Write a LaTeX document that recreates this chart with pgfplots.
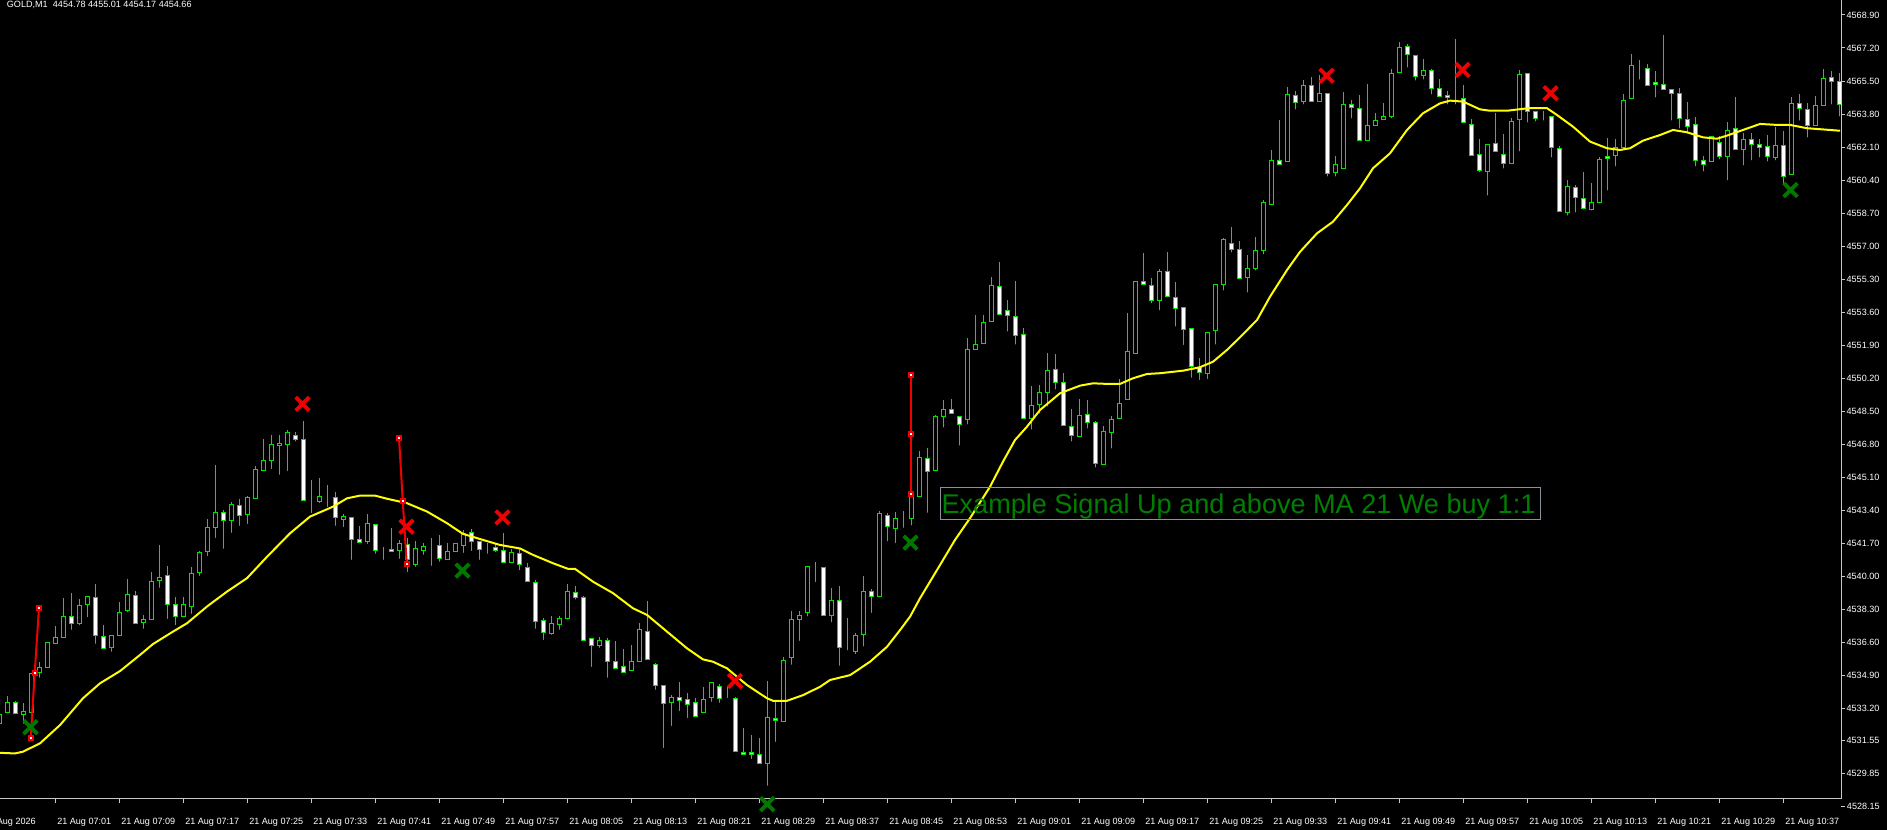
\documentclass[border=0pt]{standalone}
\usepackage{fontspec}
\setmainfont{Liberation Sans}
\usepackage{pgfplots}
\usepackage{pgfplotstable}
\pgfplotsset{compat=1.18}

\definecolor{candle}{HTML}{00E800}
\definecolor{mayellow}{HTML}{FFFF00}
\definecolor{scalegrey}{HTML}{C8C8C8}
\definecolor{sigred}{HTML}{F00000}
\definecolor{siggreen}{HTML}{007800}
\definecolor{textgreen}{HTML}{008000}
\definecolor{boxgrey}{HTML}{8A929E}

% GOLD M1 bars: index, open, high, low, close
\pgfplotstableread{
j o h l c
0 4532.44 4533.04 4532.27 4532.90
1 4533.01 4533.85 4532.90 4533.52
2 4533.52 4533.60 4532.83 4532.96
3 4532.90 4533.47 4532.27 4533.07
4 4533.01 4535.05 4532.61 4535.02
5 4535.05 4535.62 4534.64 4535.31
6 4535.31 4536.64 4535.31 4536.61
7 4536.54 4537.45 4536.39 4536.87
8 4536.87 4538.89 4536.80 4537.95
9 4537.95 4539.14 4537.11 4537.59
10 4537.57 4538.83 4537.35 4538.52
11 4538.55 4538.98 4537.76 4538.98
12 4538.93 4539.61 4536.39 4536.95
13 4536.92 4537.49 4536.30 4536.30
14 4536.34 4536.97 4535.98 4536.97
15 4536.95 4538.69 4536.90 4538.16
16 4538.24 4539.87 4538.02 4539.08
17 4539.03 4539.24 4537.59 4537.59
18 4537.62 4538.02 4537.16 4537.80
19 4537.80 4540.22 4537.72 4539.75
20 4539.78 4541.62 4539.27 4539.96
21 4540.06 4540.54 4537.67 4538.57
22 4538.55 4538.96 4537.35 4537.95
23 4537.93 4538.93 4537.83 4538.57
24 4538.45 4540.48 4537.93 4540.17
25 4540.20 4541.31 4539.88 4541.25
26 4541.30 4542.96 4540.90 4542.53
27 4542.53 4545.74 4541.84 4543.31
28 4543.31 4543.43 4541.28 4542.90
29 4542.90 4543.85 4542.10 4543.72
30 4543.67 4543.99 4542.46 4543.15
31 4543.18 4544.15 4542.56 4544.08
32 4544.03 4545.69 4544.03 4545.52
33 4545.45 4547.08 4545.28 4545.98
34 4545.98 4547.28 4545.38 4546.80
35 4546.75 4547.28 4545.09 4546.85
36 4546.80 4547.54 4545.28 4547.42
37 4547.26 4547.45 4546.80 4547.06
38 4547.06 4548.00 4543.92 4543.92
39 4543.87 4544.97 4543.12 4543.87
40 4543.87 4545.07 4543.63 4544.13
41 4544.08 4544.70 4543.43 4544.08
42 4544.08 4544.35 4542.46 4543.04
43 4542.95 4543.20 4542.40 4543.10
44 4543.04 4543.04 4540.71 4541.91
45 4541.89 4542.62 4541.74 4541.74
46 4541.79 4543.20 4541.53 4542.74
47 4542.69 4542.69 4541.02 4541.33
48 4541.30 4541.53 4540.71 4541.30
49 4541.40 4542.48 4541.23 4541.28
50 4541.33 4541.86 4540.76 4541.71
51 4541.62 4541.99 4540.08 4540.85
52 4540.61 4541.83 4540.35 4541.45
53 4541.35 4541.71 4540.97 4541.55
54 4541.60 4541.96 4540.40 4541.60
55 4541.60 4542.12 4540.61 4540.93
56 4540.87 4541.71 4540.76 4541.28
57 4541.28 4541.71 4541.12 4541.71
58 4541.60 4542.38 4541.07 4542.23
59 4542.28 4542.43 4541.17 4541.81
60 4541.81 4541.81 4540.71 4541.40
61 4541.43 4541.71 4541.02 4541.43
62 4541.50 4541.71 4541.11 4541.35
63 4541.35 4542.23 4540.71 4540.71
64 4540.71 4541.40 4540.61 4541.25
65 4541.19 4541.47 4540.17 4540.63
66 4540.48 4540.68 4539.66 4539.76
67 4539.70 4539.82 4537.16 4537.69
68 4537.74 4537.85 4536.59 4537.13
69 4537.07 4537.95 4536.85 4537.59
70 4537.54 4537.95 4537.11 4537.85
71 4537.85 4539.61 4537.64 4539.24
72 4539.19 4539.51 4538.67 4538.93
73 4538.93 4538.98 4536.54 4536.71
74 4536.82 4536.82 4535.20 4536.46
75 4536.46 4536.87 4536.18 4536.71
76 4536.71 4536.82 4534.64 4535.62
77 4535.62 4536.66 4535.26 4535.26
78 4535.36 4536.25 4535.05 4535.05
79 4535.16 4536.46 4535.05 4535.62
80 4535.62 4537.59 4535.57 4537.28
81 4537.18 4538.72 4535.72 4535.72
82 4535.46 4535.57 4534.02 4534.38
83 4534.38 4534.38 4531.03 4533.45
84 4533.50 4533.91 4532.16 4533.76
85 4533.76 4534.58 4532.93 4533.60
86 4533.66 4534.02 4532.57 4533.40
87 4533.50 4533.76 4532.73 4532.78
88 4532.99 4534.32 4532.93 4533.66
89 4533.76 4534.58 4533.40 4534.53
90 4534.32 4534.48 4533.35 4533.71
91 4533.76 4534.32 4533.60 4533.76
92 4533.71 4533.81 4530.98 4530.98
93 4530.93 4532.22 4530.67 4530.82
94 4530.93 4531.85 4530.46 4530.82
95 4530.82 4531.70 4530.36 4530.36
96 4530.36 4534.64 4529.08 4532.73
97 4532.68 4533.60 4531.34 4532.57
98 4532.52 4535.87 4532.47 4535.67
99 4535.82 4538.21 4535.31 4537.80
100 4537.80 4538.21 4536.54 4538.00
101 4538.16 4540.52 4537.80 4540.52
102 4540.55 4540.76 4539.57 4540.55
103 4540.48 4540.48 4538.00 4538.00
104 4538.00 4539.38 4537.49 4538.77
105 4538.77 4539.49 4535.26 4536.36
106 4536.30 4537.85 4536.05 4536.30
107 4536.13 4537.07 4535.85 4536.97
108 4537.02 4540.02 4536.25 4539.24
109 4539.22 4539.34 4537.98 4538.98
110 4538.96 4543.37 4538.83 4543.22
111 4543.13 4543.25 4541.66 4542.59
112 4542.48 4543.31 4541.58 4542.99
113 4543.02 4543.37 4542.36 4543.02
114 4542.99 4544.22 4542.48 4544.22
115 4544.11 4546.47 4544.09 4546.13
116 4546.08 4546.59 4543.13 4545.39
117 4545.45 4548.29 4545.34 4548.24
118 4548.24 4549.08 4547.52 4548.60
119 4548.60 4549.13 4548.34 4548.40
120 4548.24 4548.24 4546.59 4547.83
121 4548.09 4552.26 4547.68 4551.69
122 4551.69 4553.46 4551.64 4551.95
123 4552.00 4553.46 4551.90 4553.08
124 4553.13 4555.40 4553.13 4554.99
125 4554.94 4556.19 4553.39 4553.50
126 4553.70 4554.23 4552.46 4553.44
127 4553.39 4555.19 4551.79 4552.41
128 4552.46 4552.77 4548.14 4548.14
129 4548.14 4549.79 4547.42 4548.81
130 4548.86 4549.84 4548.24 4549.48
131 4549.48 4551.49 4548.60 4550.61
132 4550.66 4551.43 4549.48 4549.99
133 4549.99 4550.46 4547.78 4547.78
134 4547.73 4548.60 4546.80 4547.26
135 4547.21 4549.12 4547.21 4548.29
136 4548.34 4549.07 4547.47 4547.93
137 4547.93 4547.98 4545.46 4545.82
138 4545.77 4547.73 4545.67 4547.47
139 4547.42 4548.24 4546.44 4548.09
140 4548.14 4550.15 4548.14 4548.91
141 4549.12 4553.55 4549.12 4551.59
142 4551.49 4555.19 4551.43 4555.19
143 4555.19 4556.65 4554.88 4555.04
144 4554.99 4555.35 4553.91 4554.22
145 4554.22 4555.81 4553.55 4555.71
146 4555.71 4556.68 4554.42 4554.42
147 4554.37 4555.14 4552.72 4553.80
148 4553.83 4553.85 4551.77 4552.72
149 4552.77 4552.77 4550.08 4550.82
150 4550.77 4551.23 4549.97 4550.52
151 4550.46 4552.60 4550.02 4552.57
152 4552.67 4555.04 4551.79 4555.04
153 4555.04 4557.40 4554.57 4557.35
154 4557.15 4557.97 4556.53 4556.84
155 4556.84 4557.25 4555.35 4555.35
156 4555.40 4556.53 4554.47 4555.86
157 4555.86 4557.46 4555.60 4556.79
158 4556.79 4559.36 4556.43 4559.26
159 4559.16 4561.93 4559.05 4561.42
160 4561.42 4563.48 4561.16 4561.21
161 4561.37 4565.18 4561.27 4564.82
162 4564.77 4564.97 4563.89 4564.40
163 4564.46 4565.54 4564.15 4565.28
164 4565.28 4565.69 4564.30 4564.46
165 4564.46 4565.79 4564.46 4564.87
166 4564.87 4564.87 4560.44 4560.75
167 4560.80 4561.63 4560.44 4561.21
168 4561.01 4564.92 4560.85 4564.30
169 4564.30 4564.51 4563.43 4564.15
170 4564.10 4564.77 4562.45 4562.45
171 4562.45 4565.33 4562.45 4563.22
172 4563.22 4563.84 4563.12 4563.48
173 4563.53 4564.35 4563.43 4563.68
174 4563.68 4566.10 4563.43 4565.90
175 4565.95 4567.49 4565.85 4567.24
176 4567.29 4567.39 4566.05 4566.88
177 4566.82 4566.82 4565.38 4565.74
178 4565.79 4566.62 4565.43 4566.05
179 4566.05 4566.10 4564.66 4565.13
180 4565.13 4565.59 4564.56 4564.71
181 4564.77 4564.97 4564.15 4564.66
182 4564.69 4567.66 4564.15 4564.69
183 4564.61 4565.28 4563.38 4563.38
184 4563.27 4563.53 4561.68 4561.68
185 4561.73 4562.50 4560.66 4560.90
186 4560.85 4562.24 4559.46 4562.24
187 4562.29 4563.84 4561.78 4561.88
188 4561.73 4562.76 4560.85 4561.27
189 4561.27 4563.58 4561.27 4563.43
190 4563.53 4566.05 4561.73 4565.85
191 4565.90 4565.90 4563.22 4563.94
192 4563.94 4563.94 4563.27 4563.58
193 4563.68 4563.94 4563.32 4563.68
194 4563.68 4563.68 4561.42 4562.09
195 4562.04 4562.14 4558.79 4558.79
196 4558.74 4560.39 4558.43 4560.08
197 4560.03 4560.13 4558.59 4559.51
198 4559.46 4560.80 4558.74 4558.95
199 4558.90 4560.24 4558.69 4559.26
200 4559.26 4561.57 4559.10 4561.47
201 4561.63 4562.55 4559.72 4561.52
202 4561.68 4562.50 4560.96 4562.09
203 4562.09 4564.82 4561.83 4564.51
204 4564.61 4566.88 4564.61 4566.31
205 4566.24 4566.57 4565.43 4566.24
206 4566.15 4566.36 4565.13 4565.28
207 4565.43 4566.00 4564.51 4565.33
208 4565.33 4567.85 4565.07 4565.07
209 4565.07 4565.07 4563.32 4564.87
210 4564.87 4565.13 4562.91 4563.58
211 4563.53 4564.40 4562.65 4563.17
212 4563.27 4563.63 4560.96 4561.42
213 4561.42 4561.63 4560.70 4561.21
214 4561.37 4562.65 4561.32 4562.65
215 4562.35 4562.65 4561.32 4561.63
216 4561.63 4563.38 4560.24 4562.96
217 4563.07 4564.66 4561.99 4561.99
218 4561.99 4562.81 4561.01 4562.50
219 4562.50 4562.81 4561.27 4562.24
220 4562.24 4562.50 4561.42 4562.09
221 4562.14 4562.71 4561.21 4561.63
222 4561.57 4563.12 4561.27 4562.19
223 4562.19 4562.93 4560.01 4560.61
224 4560.71 4564.69 4560.71 4564.35
225 4564.35 4564.83 4563.32 4564.10
226 4564.04 4564.35 4562.45 4563.22
227 4563.22 4564.74 4563.12 4564.25
228 4564.25 4566.10 4564.10 4565.64
229 4565.69 4566.02 4564.15 4565.49
230 4565.49 4565.90 4563.53 4564.30
}\candles

% MA 21 line
\pgfplotstableread{
j v
0.09 4530.92
1.96 4530.89
2.96 4530.98
5.09 4531.41
7.59 4532.35
10.46 4533.73
12.59 4534.50
15.09 4535.13
17.59 4535.96
19.21 4536.52
21.71 4537.16
23.46 4537.59
25.96 4538.45
28.46 4539.22
30.96 4539.91
33.46 4541.01
36.34 4542.22
38.84 4543.08
41.71 4543.59
43.46 4544.02
45.09 4544.16
46.96 4544.16
48.46 4544.00
50.96 4543.77
53.46 4543.34
55.96 4542.74
57.96 4542.19
60.46 4541.88
62.59 4541.62
65.09 4541.44
66.71 4541.11
69.21 4540.68
71.09 4540.39
71.96 4540.39
74.21 4539.73
76.71 4539.14
79.21 4538.36
80.96 4538.02
83.46 4537.16
85.96 4536.30
87.96 4535.73
89.21 4535.61
90.96 4535.27
93.46 4534.41
95.96 4533.73
96.71 4533.60
98.46 4533.60
100.46 4533.89
102.59 4534.32
103.84 4534.67
106.34 4534.92
108.84 4535.61
110.96 4536.38
112.59 4537.24
113.84 4537.93
115.09 4538.88
117.59 4540.59
119.46 4541.88
121.34 4543.00
123.84 4544.62
125.46 4545.91
126.96 4547.02
128.46 4547.71
130.09 4548.57
132.59 4549.43
135.09 4549.82
136.71 4549.94
138.46 4549.91
140.09 4549.91
141.71 4550.20
143.46 4550.42
145.09 4550.46
147.96 4550.59
150.09 4550.77
151.71 4551.05
153.46 4551.66
155.09 4552.31
157.21 4553.20
158.84 4554.40
160.96 4555.77
162.59 4556.71
164.71 4557.66
166.71 4558.26
168.46 4559.12
170.09 4559.98
171.71 4561.01
173.84 4561.78
175.96 4562.98
177.96 4563.84
180.09 4564.35
181.34 4564.49
182.96 4564.44
185.09 4564.04
186.34 4563.97
188.46 4563.97
191.34 4564.11
193.46 4564.10
194.71 4563.75
196.71 4563.15
198.84 4562.38
200.96 4562.04
202.59 4561.95
203.84 4562.04
205.46 4562.43
207.59 4562.72
209.21 4562.98
210.96 4562.86
212.96 4562.60
214.71 4562.53
215.96 4562.69
217.96 4562.98
220.09 4563.29
222.21 4563.24
223.84 4563.24
225.96 4563.07
230.09 4562.94
}\maline

\pgfplotsset{
  chartframe/.style={
    scale only axis, width=1380.75pt, height=599.25pt,
    at={(0,0)}, anchor=south west,
    xmin=0.0875, xmax=230.2125,
    enlargelimits=false,
  },
}

\begin{document}
\begin{tikzpicture}
\fill[black] (0,-23.25pt) rectangle (1415.25pt,599.25pt);

% wicks
\begin{axis}[chartframe, hide axis, ymin=4528.545, ymax=4569.67]
\addplot[only marks, mark=none,
  error bars/.cd, y dir=plus, y explicit, error mark=none,
  error bar style={draw=candle, line width=0.75pt}]
  table[x=j, y=l, y error plus expr={\thisrow{h}-\thisrow{l}}] {\candles};
\end{axis}

% bodies (stacked on an invisible base, price shifted by ymin)
\begin{axis}[chartframe, hide axis, ymin=0, ymax=41.125, ybar stacked, bar width=3pt]
\addplot[draw=none, fill=none] table[x=j, y expr={min(\thisrow{o},\thisrow{c})-4528.545}] {\candles};
\addplot[draw=candle, fill=black, line width=0.75pt] table[x=j, y expr={max(\thisrow{c}-\thisrow{o},0)}] {\candles};
\addplot[draw=candle, fill=white, line width=0.75pt] table[x=j, y expr={max(\thisrow{o}-\thisrow{c},0)}] {\candles};
\end{axis}

% price scale, time scale, MA and signals
\begin{axis}[chartframe, ymin=4528.545, ymax=4569.67, clip=false,
  axis x line*=bottom, axis y line*=right,
  axis line style={scalegrey, line width=0.75pt},
  tick align=outside, major tick length=3pt,
  tick style={scalegrey, line width=0.75pt},
  xtick={7,15,...,223},
  xticklabels={21 Aug 07:01,21 Aug 07:09,21 Aug 07:17,21 Aug 07:25,21 Aug 07:33,21 Aug 07:41,21 Aug 07:49,21 Aug 07:57,21 Aug 08:05,21 Aug 08:13,21 Aug 08:21,21 Aug 08:29,21 Aug 08:37,21 Aug 08:45,21 Aug 08:53,21 Aug 09:01,21 Aug 09:09,21 Aug 09:17,21 Aug 09:25,21 Aug 09:33,21 Aug 09:41,21 Aug 09:49,21 Aug 09:57,21 Aug 10:05,21 Aug 10:13,21 Aug 10:21,21 Aug 10:29,21 Aug 10:37},
  ytick={4568.90,4567.20,4565.50,4563.80,4562.10,4560.40,4558.70,4557.00,4555.30,4553.60,4551.90,4550.20,4548.50,4546.80,4545.10,4543.40,4541.70,4540.00,4538.30,4536.60,4534.90,4533.20,4531.55,4529.85},
  yticklabels={4568.90,4567.20,4565.50,4563.80,4562.10,4560.40,4558.70,4557.00,4555.30,4553.60,4551.90,4550.20,4548.50,4546.80,4545.10,4543.40,4541.70,4540.00,4538.30,4536.60,4534.90,4533.20,4531.55,4529.85},
  ticklabel style={font=\fontsize{6.8}{8}\selectfont, text=white, inner sep=0pt},
  xticklabel style={anchor=north west, xshift=1.3pt, yshift=-11pt},
  yticklabel style={anchor=west, xshift=1pt},
]
\addplot[mayellow, line width=1.5pt] table[x=j, y=v] {\maline};

\addplot[sigred, line width=1.5pt, mark=square*, mark size=1.5pt,
  mark options={fill=white, draw=sigred, line width=1.5pt}]
  coordinates {(3.93,4531.70) (4.43,4535.05) (4.96,4538.39)};
\addplot[sigred, line width=1.5pt, mark=square*, mark size=1.5pt,
  mark options={fill=white, draw=sigred, line width=1.5pt}]
  coordinates {(49.96,4547.14) (50.43,4543.90) (50.93,4540.66)};
\addplot[sigred, line width=1.5pt, mark=square*, mark size=1.5pt,
  mark options={fill=white, draw=sigred, line width=1.5pt}]
  coordinates {(113.96,4550.38) (113.96,4547.33) (113.96,4544.24)};

\addplot[only marks, mark=x, mark size=7.2pt, siggreen, line width=2.9pt]
  coordinates {(3.9,4532.24) (57.9,4540.30) (113.9,4541.74) (96.0,4528.28) (223.9,4559.89)};
\addplot[only marks, mark=x, mark size=7.2pt, sigred, line width=2.9pt]
  coordinates {(37.9,4548.88) (50.9,4542.56) (62.9,4543.04) (91.96,4534.62) (165.9,4565.77) (182.9,4566.07) (193.9,4564.87)};
\end{axis}

% lowest price label, hanging below the chart
\draw[scalegrey, line width=0.75pt] (1380.75pt,-5.8pt) -- (1383.75pt,-5.8pt);
\node[anchor=west, inner sep=0pt, text=white, font=\fontsize{6.8}{8}\selectfont] at (1385pt,-5.8pt) {4528.15};
\node[anchor=north west, inner sep=0pt, text=white, font=\fontsize{6.8}{8}\selectfont] at (-12pt,-14pt) {21 Aug 2026};

% header
\node[anchor=base west, inner sep=0pt, text=white, font=\fontsize{6.8}{8}\selectfont] at (5pt,593.8pt) {GOLD,M1\hspace{2pt} 4454.78 4455.01 4454.17 4454.66};

% text label
\draw[boxgrey, line width=0.75pt] (705pt,209.25pt) rectangle (1155pt,233.8pt);
\node[anchor=base west, inner sep=0pt, text=textgreen, font=\fontsize{20.3}{24}\selectfont] at (706pt,214.3pt) {Example Signal Up and above MA 21 We buy 1:1};

\pgfresetboundingbox
\path[use as bounding box] (0,-23.25pt) rectangle (1415.25pt,599.25pt);
\end{tikzpicture}
\end{document}
